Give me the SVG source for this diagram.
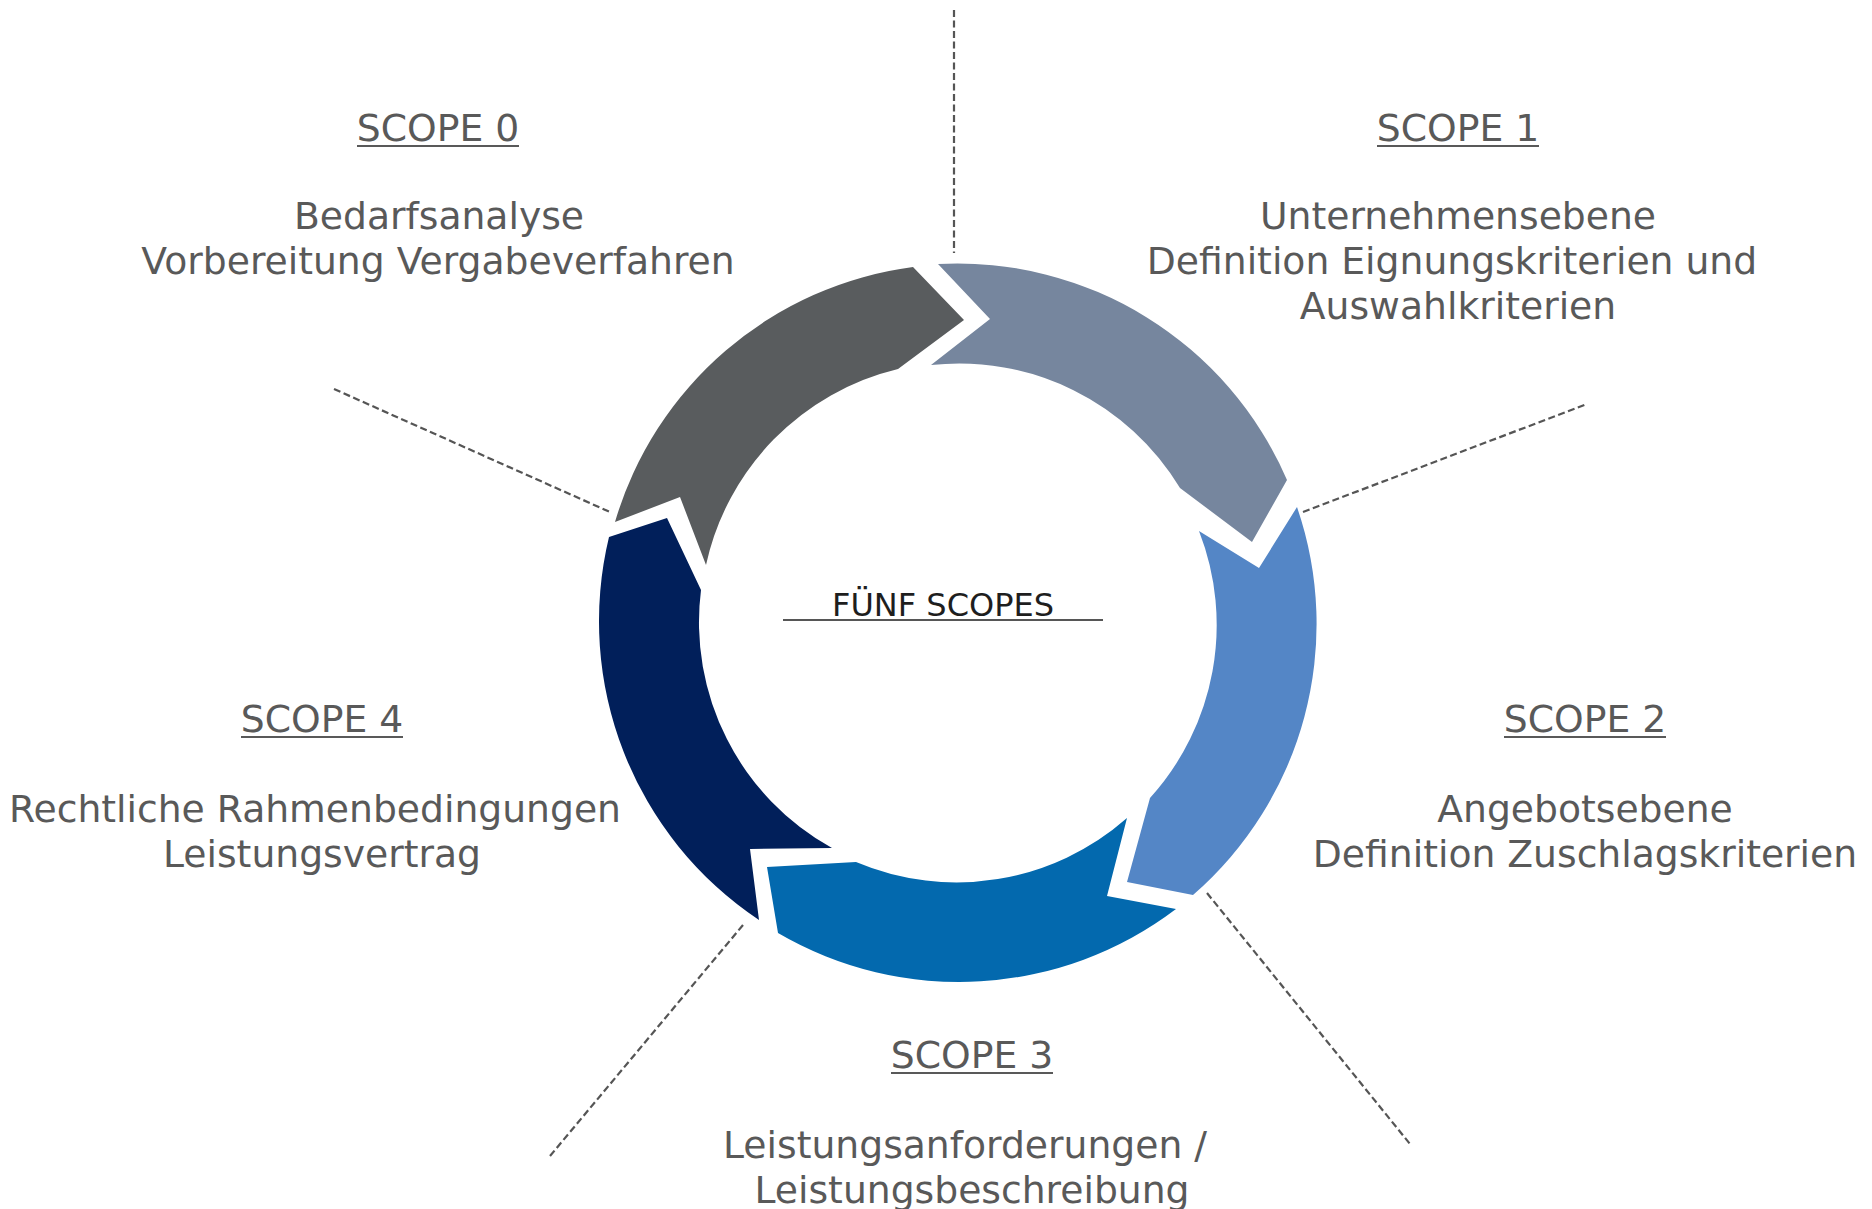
<svg xmlns="http://www.w3.org/2000/svg" width="1872" height="1209" viewBox="0 0 1872 1209">
<style>
.t{font-family:"DejaVu Sans","Verdana",sans-serif;font-size:37.7px;fill:#595959;text-anchor:middle}
.ul{stroke:#595959;stroke-width:2}
.d{stroke:#555555;stroke-width:2.2;stroke-dasharray:7 3.5;fill:none}
.c{font-family:"DejaVu Sans","Verdana",sans-serif;font-size:32px;fill:#1e1e1e;text-anchor:middle}
</style>
<rect width="1872" height="1209" fill="#ffffff"/>
<g id="connectors">
<line class="d" x1="954" y1="10" x2="954" y2="253"/>
<line class="d" x1="334" y1="389" x2="610" y2="512"/>
<line class="d" x1="1303" y1="512" x2="1587" y2="404"/>
<line class="d" x1="1207" y1="893" x2="1410" y2="1144"/>
<line class="d" x1="743" y1="925" x2="550" y2="1156"/>
</g>
<g id="arrow0">
<path fill="#595C5E" d="M615 522 A359 359 0 0 1 913 267 L964 320 L898 369 A258 258 0 0 0 706 565 L680 497 Z"/>
</g>
<g id="arrow1">
<path fill="#76869E" d="M938 264 A359 359 0 0 1 1287 480 L1252 542 L1180 488 A258 258 0 0 0 931 365 L990 319 Z"/>
</g>
<g id="arrow2">
<path fill="#5486C6" d="M1297 507 A359 359 0 0 1 1193 895 L1127 882 L1150 798 A258 258 0 0 0 1199 531 L1259 568 Z"/>
</g>
<g id="arrow3">
<path fill="#0369AE" d="M1176 909 A359 359 0 0 1 778 933 L767 867 L856 862 A258 258 0 0 0 1127 818 L1107 896 Z"/>
</g>
<g id="arrow4">
<path fill="#011F5A" d="M759 920 A359 359 0 0 1 609 537 L667 518 L701 590 A258 258 0 0 0 832 848 L750 849 Z"/>
</g>
<g id="center">
<text class="c" x="943" y="616">FÜNF SCOPES</text>
<line x1="783" y1="620" x2="1103" y2="620" stroke="#1e1e1e" stroke-width="1.6"/>
</g>
<g id="scope0">
<text class="t" x="438" y="141">SCOPE 0</text>
<line class="ul" x1="357" y1="146" x2="519" y2="146"/>
<text class="t" x="439" y="229">Bedarfsanalyse</text>
<text class="t" x="438" y="274">Vorbereitung Vergabeverfahren</text>
</g>
<g id="scope1">
<text class="t" x="1458" y="141">SCOPE 1</text>
<line class="ul" x1="1377" y1="146" x2="1539" y2="146"/>
<text class="t" x="1458" y="229">Unternehmensebene</text>
<text class="t" x="1452" y="274">Definition Eignungskriterien und</text>
<text class="t" x="1458" y="319">Auswahlkriterien</text>
</g>
<g id="scope2">
<text class="t" x="1585" y="732">SCOPE 2</text>
<line class="ul" x1="1504" y1="737" x2="1666" y2="737"/>
<text class="t" x="1585" y="822">Angebotsebene</text>
<text class="t" x="1585" y="867">Definition Zuschlagskriterien</text>
</g>
<g id="scope3">
<text class="t" x="972" y="1068">SCOPE 3</text>
<line class="ul" x1="891" y1="1073" x2="1053" y2="1073"/>
<text class="t" x="965" y="1158">Leistungsanforderungen /</text>
<text class="t" x="972" y="1203">Leistungsbeschreibung</text>
</g>
<g id="scope4">
<text class="t" x="322" y="732">SCOPE 4</text>
<line class="ul" x1="241" y1="737" x2="403" y2="737"/>
<text class="t" x="315" y="822">Rechtliche Rahmenbedingungen</text>
<text class="t" x="322" y="867">Leistungsvertrag</text>
</g>
</svg>
